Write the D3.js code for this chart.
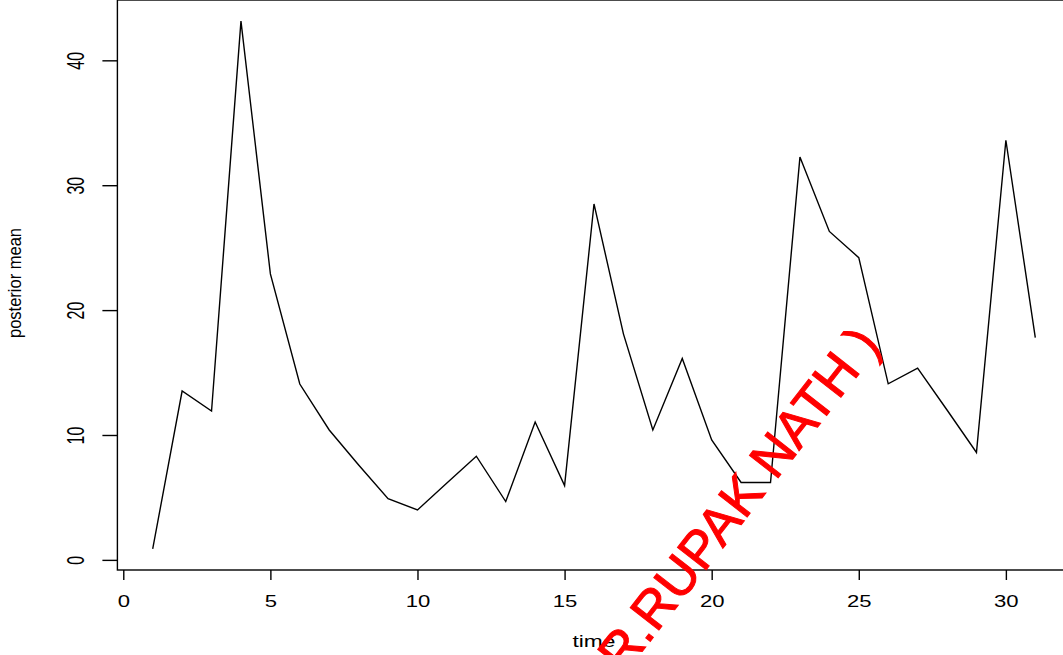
<!DOCTYPE html>
<html>
<head>
<meta charset="utf-8">
<script src="https://cdn.jsdelivr.net/npm/d3@7"></script>
<style>
  html, body { margin: 0; padding: 0; background: #fff; overflow: hidden; }
  svg { display: block; font-family: "Liberation Sans", Arial, Helvetica, sans-serif; }
</style>
</head>
<body>
<svg id="chart" width="1063" height="655"></svg>
<script>
// ---- data ----
const times = [1,2,3,4,5,6,7,8,9,10,11,12,13,14,15,16,17,18,19,20,21,22,23,24,25,26,27,28,29,30,31];
const posteriorMean = [0.88, 13.52, 11.92, 43.14, 22.9, 14.08, 10.4, 7.6, 4.9, 4.0, 6.15, 8.3, 4.67, 11.04, 5.95,
                       28.5, 18.1, 10.4, 16.13, 9.6, 6.2, 6.2, 32.25, 26.3, 24.2, 14.1, 15.35, 12.0, 8.6, 33.6, 17.8];
const xTicks = [0, 5, 10, 15, 20, 25, 30];
const yTicks = [0, 10, 20, 30, 40];
const xLabel = "time";
const yLabel = "posterior mean";
const watermark = "( DR.RUPAK NATH )";

// ---- layout ----
const svg = d3.select("#chart");
const plotLeft = 117.4, plotRight = 1070.6, plotTop = 0, plotBottom = 570;
const sx = 1.38; // horizontal stretch of the original picture

function padded(ext) { const r = ext[1] - ext[0]; return [ext[0] - 0.04 * r, ext[1] + 0.04 * r]; }

const x = d3.scaleLinear().domain(padded(d3.extent(times))).range([plotLeft, plotRight]);
const y = d3.scaleLinear().domain(padded(d3.extent(posteriorMean))).range([plotBottom, plotTop]);

// box
svg.append("rect")
  .attr("x", plotLeft).attr("y", plotTop)
  .attr("width", plotRight - plotLeft).attr("height", plotBottom - plotTop)
  .attr("fill", "none").attr("stroke", "#000").attr("stroke-width", 1.4);

// x axis
const xAxis = svg.append("g").attr("transform", `translate(0,${plotBottom})`)
  .call(d3.axisBottom(x).tickValues(xTicks).tickSize(10).tickSizeOuter(0).tickFormat(() => ""));
xAxis.select(".domain").remove();
xAxis.selectAll(".tick line").attr("stroke", "#000").attr("stroke-width", 1.4);
xAxis.selectAll(".tick").append("text")
  .attr("transform", `translate(0,37) scale(${sx},1)`)
  .attr("text-anchor", "middle").attr("fill", "#000")
  .style("font-size", "16px").text(d => d);

// y axis
const yAxis = svg.append("g").attr("transform", `translate(${plotLeft},0)`)
  .call(d3.axisLeft(y).tickValues(yTicks).tickSize(15).tickSizeOuter(0).tickFormat(() => ""));
yAxis.select(".domain").remove();
yAxis.selectAll(".tick line").attr("stroke", "#000").attr("stroke-width", 1.4);
yAxis.selectAll(".tick").append("text")
  .attr("transform", `translate(${83.5 - plotLeft},0) scale(1.5,1) rotate(-90)`)
  .attr("text-anchor", "middle").attr("fill", "#000")
  .style("font-size", "16px").text(d => d);

// line
const line = d3.line().x((d, i) => x(times[i])).y(d => y(d));
svg.append("path").datum(posteriorMean)
  .attr("d", line).attr("fill", "none").attr("stroke", "#000").attr("stroke-width", 1.4)
  .attr("stroke-linejoin", "miter");

// axis titles
svg.append("text")
  .attr("transform", `translate(${(plotLeft + plotRight) / 2},647) scale(${sx},1)`)
  .attr("text-anchor", "middle").attr("fill", "#000")
  .style("font-size", "16.5px").text(xLabel);

svg.append("text")
  .attr("transform", `translate(21,283) scale(1.15,1) rotate(-90)`)
  .attr("text-anchor", "middle").attr("fill", "#000")
  .style("font-size", "16.5px").text(yLabel);

// watermark
svg.append("text")
  .attr("transform", "translate(731,538) rotate(-52)")
  .attr("text-anchor", "middle").attr("fill", "#ff0000")
  .attr("stroke", "#ff0000").attr("stroke-width", 1)
  .style("font-size", "53px").text(watermark);
</script>
</body>
</html>
